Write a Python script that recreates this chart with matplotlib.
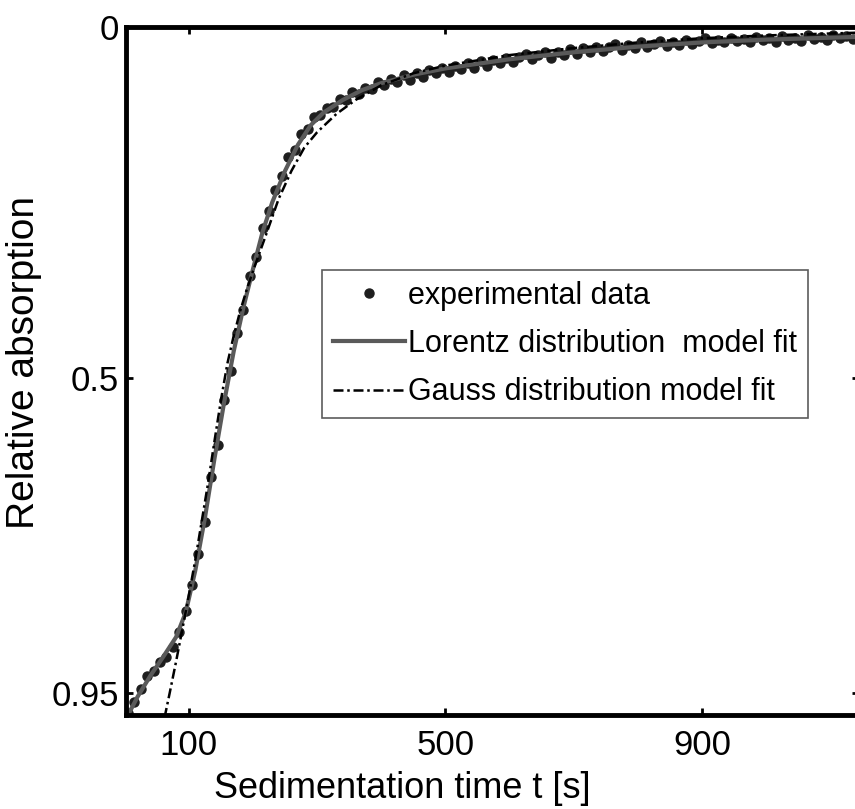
import numpy as np
import matplotlib
matplotlib.use("Agg")
import matplotlib.pyplot as plt

# sedimentation time [s] of the measured points
t_data = np.arange(5, 1140, 10)
absorption_data = [
    0.978, 0.962, 0.944, 0.925, 0.918, 0.905, 0.898, 0.884, 0.862, 0.832,
    0.796, 0.752, 0.706, 0.641, 0.596, 0.532, 0.490, 0.436, 0.404, 0.355,
    0.328, 0.286, 0.262, 0.232, 0.212, 0.186, 0.175, 0.152, 0.146, 0.128,
    0.126, 0.115, 0.114, 0.103, 0.104, 0.093, 0.095, 0.087, 0.088, 0.079,
    0.083, 0.074, 0.078, 0.069, 0.075, 0.066, 0.071, 0.061, 0.066, 0.058,
    0.064, 0.055, 0.060, 0.052, 0.058, 0.049, 0.055, 0.047, 0.052, 0.044,
    0.050, 0.043, 0.038, 0.046, 0.040, 0.036, 0.044, 0.035, 0.040, 0.032,
    0.038, 0.030, 0.036, 0.028, 0.034, 0.029, 0.024, 0.033, 0.026, 0.030,
    0.022, 0.028, 0.024, 0.020, 0.027, 0.021, 0.025, 0.018, 0.024, 0.020,
    0.016, 0.023, 0.018, 0.021, 0.015, 0.020, 0.017, 0.022, 0.014, 0.019,
    0.016, 0.021, 0.013, 0.018, 0.015, 0.020, 0.012, 0.017, 0.014, 0.019,
    0.011, 0.016, 0.013, 0.017,
]

t_lorentz = [0, 20, 40, 60, 80, 95, 110, 125, 140, 155, 170, 185, 200, 215,
             230, 250, 270, 290, 310, 340, 370, 400, 450, 500, 600, 700, 800,
             900, 1000, 1145]
lorentz_fit = [0.99, 0.955, 0.925, 0.898, 0.87, 0.835, 0.775, 0.70, 0.615,
               0.535, 0.462, 0.40, 0.345, 0.292, 0.25, 0.205, 0.168, 0.14,
               0.122, 0.104, 0.09, 0.08, 0.068, 0.059, 0.046, 0.036, 0.028,
               0.022, 0.018, 0.014]

t_gauss = [62, 70, 80, 90, 100, 110, 120, 130, 140, 150, 160, 170, 180, 190,
           200, 220, 240, 260, 280, 300, 330, 360, 400, 450, 500, 600, 700,
           800, 900, 1000, 1145]
gauss_fit = [0.985, 0.95, 0.905, 0.858, 0.81, 0.76, 0.705, 0.65, 0.59, 0.532,
             0.48, 0.44, 0.405, 0.375, 0.348, 0.297, 0.245, 0.205, 0.172,
             0.150, 0.124, 0.104, 0.083, 0.066, 0.055, 0.040, 0.030, 0.022,
             0.016, 0.012, 0.008]

x_ticks = [100, 500, 900]
y_ticks = [0, 0.5, 0.95]
y_ticklabels = ["0", "0.5", "0.95"]

plt.rcParams["font.family"] = ["Liberation Sans", "DejaVu Sans"]

fig = plt.figure(figsize=(8.55, 8.09), dpi=100)
ax = fig.add_axes([0.1474, 0.1162, 0.8573, 0.8504])

ax.plot(t_data, absorption_data, linestyle="none", marker="o", markersize=6.5,
        color="#1e1e1e", label="experimental data")
ax.plot(t_lorentz, lorentz_fit, color="#5a5a5a", linewidth=3,
        label="Lorentz distribution  model fit")
ax.plot(t_gauss, gauss_fit, color="black", linewidth=1.8,
        linestyle=(0, (4, 1.5, 1, 1.5)), label="Gauss distribution model fit")

ax.set_xlim(2, 1145)
ax.set_ylim(0.981, 0)
ax.set_xticks(x_ticks)
ax.set_yticks(y_ticks)
ax.set_yticklabels(y_ticklabels)
ax.tick_params(direction="in", length=5, width=2, labelsize=25, pad=5,
               top=True, right=True)
ax.tick_params(axis="x", pad=10)

for spine in ax.spines.values():
    spine.set_linewidth(3.5)

ax.set_xlabel("Sedimentation time t [s]", fontsize=26)
ax.xaxis.set_label_coords(0.377, -0.082)
ax.set_ylabel("Relative absorption", fontsize=28)
ax.yaxis.set_label_coords(-0.115, 0.512)

leg = ax.legend(loc="upper left", bbox_to_anchor=(0.268, 0.647), fontsize=22,
                frameon=True, fancybox=False, edgecolor="#333333",
                handlelength=2.35, handletextpad=0.1, borderpad=0.35,
                labelspacing=0.6, numpoints=1, borderaxespad=0)
leg.get_frame().set_linewidth(1.2)

fig.savefig("out.png", dpi=100)
